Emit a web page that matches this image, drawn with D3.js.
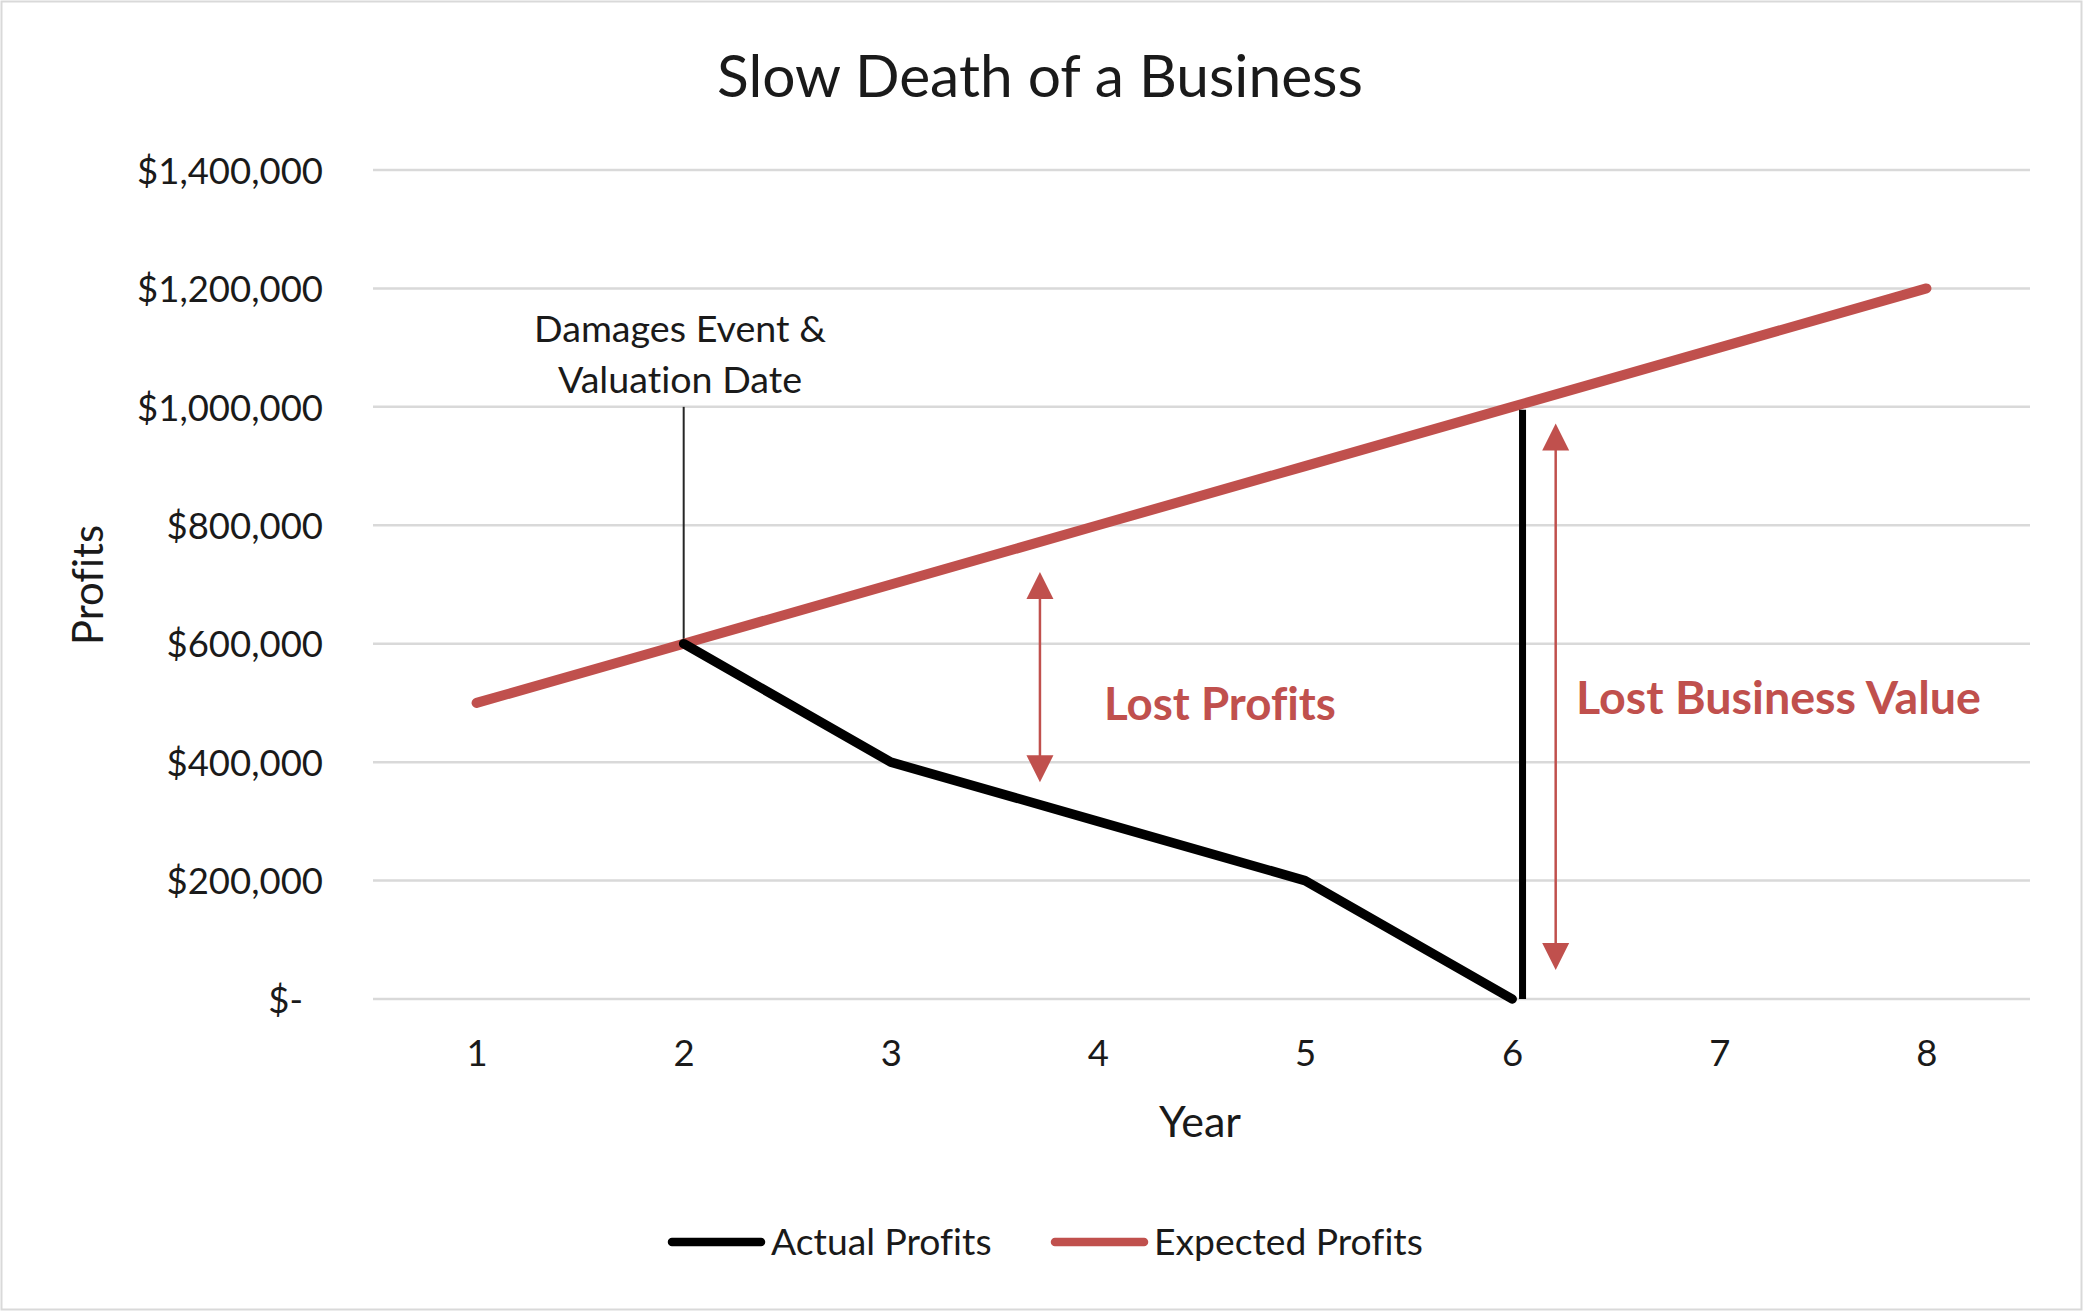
<!DOCTYPE html>
<html><head><meta charset="utf-8">
<script src="https://cdn.jsdelivr.net/npm/d3@7/dist/d3.min.js"></script>
<style>
body{margin:0;background:#fff}
svg{display:block}
text{font-family:Lato,"Open Sans",sans-serif;fill:#1a1a1a;font-variant-ligatures:none;font-feature-settings:"liga" 0}
</style>
</head><body>
<svg id="chart" width="2083" height="1311"></svg>
<script>
// ---- data ----
const years = [1, 2, 3, 4, 5, 6, 7, 8];
const expectedProfits = [500000, 600000, 700000, 800000, 900000, 1000000, 1100000, 1200000];
const actualYears = [2, 3, 4, 5, 6];
const actualProfits = [600000, 400000, 300000, 200000, 0];
const dropYears = [6.05, 6.05];
const dropValues = [0, 995000];
const eventYears = [2, 2];
const eventValues = [600000, 1000000];
const yTicks = [0, 200000, 400000, 600000, 800000, 1000000, 1200000, 1400000];
const yTickLabels = ["$-", "$200,000", "$400,000", "$600,000", "$800,000", "$1,000,000", "$1,200,000", "$1,400,000"];
const xTickLabels = ["1", "2", "3", "4", "5", "6", "7", "8"];
const lostProfitsYear = 3.72;
const lostProfitsRange = [366000, 721000];
const lostValueYear = 6.21;
const lostValueRange = [49000, 972000];
const seriesNames = ["Actual Profits", "Expected Profits"];
const seriesColors = ["#000000", "#C0504D"];

const W = 2083, H = 1311;
const svg = d3.select("#chart");
const RED = seriesColors[1];

// border
svg.append("rect").attr("x", 1.5).attr("y", 1.5).attr("width", W - 3).attr("height", H - 3)
  .attr("fill", "#fff").attr("stroke", "#d9d9d9").attr("stroke-width", 2);

const x = d3.scaleLinear().domain([0.5, 8.5]).range([373, 2030]);
const y = d3.scaleLinear().domain([0, 1400000]).range([999, 170]);

function fitSize(txt, targetW, weight) {
  const t = svg.append("text").attr("font-size", 100).attr("font-weight", weight || 400).text(txt);
  const w = t.node().getComputedTextLength();
  t.remove();
  return 100 * targetW / w;
}

// gridlines
svg.append("g").selectAll("line").data(yTicks).join("line")
  .attr("x1", x.range()[0]).attr("x2", x.range()[1])
  .attr("y1", d => y(d)).attr("y2", d => y(d))
  .attr("stroke", "#d9d9d9").attr("stroke-width", 2.5);

// axes
const tickFS = fitSize("$1,400,000", 186);
const yAxis = svg.append("g").attr("transform", `translate(323,0)`)
  .call(d3.axisLeft(y).tickValues(yTicks).tickSize(0).tickPadding(0)
    .tickFormat((d, i) => yTickLabels[i]));
yAxis.select(".domain").remove();
yAxis.selectAll("text").attr("font-size", tickFS).attr("font-family", "Lato")
  .attr("fill", "#1a1a1a").attr("dy", "0.36em")
  .attr("dx", d => d === 0 ? -20 : 0);

const xAxis = svg.append("g").attr("transform", `translate(0,1053)`)
  .call(d3.axisBottom(x).tickValues(years).tickSize(0).tickPadding(0)
    .tickFormat((d, i) => xTickLabels[i]));
xAxis.select(".domain").remove();
xAxis.selectAll("text").attr("font-size", tickFS).attr("font-family", "Lato")
  .attr("fill", "#1a1a1a").attr("dy", "0.36em");

// title
svg.append("text").attr("x", 1040).attr("y", 97).attr("text-anchor", "middle")
  .attr("font-size", fitSize("Slow Death of a Business", 646)).text("Slow Death of a Business");

// axis titles
svg.append("text").attr("x", 1200).attr("y", 1121).attr("dy", "0.36em").attr("text-anchor", "middle")
  .attr("font-size", fitSize("Year", 82)).text("Year");
svg.append("text").attr("transform", "translate(88,585) rotate(-90)").attr("dy", "0.36em")
  .attr("text-anchor", "middle").attr("font-size", fitSize("Profits", 120)).text("Profits");

// annotation
const annFS = fitSize("Damages Event &", 292);
svg.append("text").attr("x", 680).attr("y", 328).attr("dy", "0.36em").attr("text-anchor", "middle")
  .attr("font-size", annFS).text("Damages Event &");
svg.append("text").attr("x", 680).attr("y", 379).attr("dy", "0.36em").attr("text-anchor", "middle")
  .attr("font-size", annFS).text("Valuation Date");

const line = d3.line().x(d => x(d[0])).y(d => y(d[1]));
svg.append("path").datum(d3.zip(eventYears, eventValues)).attr("d", line)
  .attr("stroke", "#262626").attr("stroke-width", 2).attr("fill", "none");

// series
svg.append("path").datum(d3.zip(years, expectedProfits)).attr("d", line)
  .attr("stroke", RED).attr("stroke-width", 10).attr("fill", "none")
  .attr("stroke-linejoin", "round").attr("stroke-linecap", "round");
svg.append("path").datum(d3.zip(actualYears, actualProfits)).attr("d", line)
  .attr("stroke", seriesColors[0]).attr("stroke-width", 9.5).attr("fill", "none")
  .attr("stroke-linejoin", "round").attr("stroke-linecap", "round");
svg.append("path").datum(d3.zip(dropYears, dropValues)).attr("d", line)
  .attr("stroke", seriesColors[0]).attr("stroke-width", 7).attr("fill", "none");

// double arrows
function dblArrow(yr, range) {
  const cx = x(yr), yTop = y(range[1]), yBot = y(range[0]);
  const hw = 13.5, hh = 27;
  const g = svg.append("g");
  g.append("line").attr("x1", cx).attr("x2", cx).attr("y1", yTop + hh - 2).attr("y2", yBot - hh + 2)
    .attr("stroke", RED).attr("stroke-width", 2.5);
  g.append("path").attr("d", `M${cx},${yTop}L${cx + hw},${yTop + hh}L${cx - hw},${yTop + hh}Z`).attr("fill", RED);
  g.append("path").attr("d", `M${cx},${yBot}L${cx + hw},${yBot - hh}L${cx - hw},${yBot - hh}Z`).attr("fill", RED);
}
dblArrow(lostProfitsYear, lostProfitsRange);
dblArrow(lostValueYear, lostValueRange);

svg.append("text").attr("x", 1104).attr("y", 720).attr("font-weight", 700)
  .attr("font-size", fitSize("Lost Profits", 232, 700)).style("fill", RED).text("Lost Profits");
svg.append("text").attr("x", 1576).attr("y", 714).attr("font-weight", 700)
  .attr("font-size", fitSize("Lost Business Value", 405, 700)).style("fill", RED).text("Lost Business Value");

// legend
const legFS = fitSize("Expected Profits", 269);
const legItems = [
  {name: seriesNames[0], color: seriesColors[0], x1: 672, x2: 761, tx: 771},
  {name: seriesNames[1], color: seriesColors[1], x1: 1055, x2: 1144, tx: 1154}
];
const lg = svg.append("g");
legItems.forEach(it => {
  lg.append("line").attr("x1", it.x1).attr("x2", it.x2).attr("y1", 1242).attr("y2", 1242)
    .attr("stroke", it.color).attr("stroke-width", 8.5).attr("stroke-linecap", "round");
  lg.append("text").attr("x", it.tx).attr("y", 1242).attr("dy", "0.36em")
    .attr("font-size", legFS).text(it.name);
});
</script>
</body></html>
